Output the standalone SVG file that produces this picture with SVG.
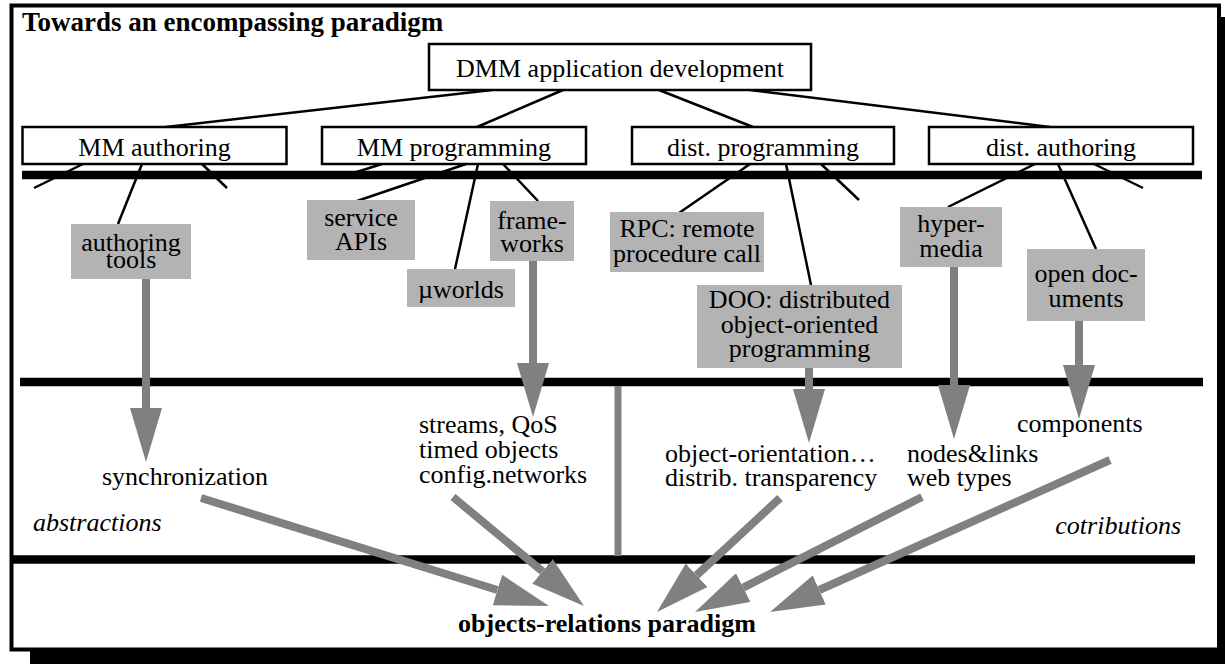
<svg xmlns="http://www.w3.org/2000/svg" width="1225" height="664" viewBox="0 0 1225 664">
<style>
text{font-family:"Liberation Serif","Times New Roman",serif;font-size:26px;fill:#000}
.b{font-weight:bold}
.i{font-style:italic}
.m{text-anchor:middle}
.wbox{fill:#fff;stroke:#000;stroke-width:2.5}
.gbox{fill:#b3b3b3;stroke:none}
.thin{stroke:#000;stroke-width:2.5;fill:none}
.bar{stroke:#000;stroke-width:8.5}
.garr{stroke:#808080;stroke-width:8;fill:none;marker-end:url(#ah)}
</style>
<defs>
<marker id="ah" markerUnits="userSpaceOnUse" markerWidth="54" markerHeight="32" refX="0" refY="16" orient="auto" viewBox="0 0 54 32"><path d="M0,0 L54,16 L0,32 z" fill="#808080"/></marker>
</defs>
<rect width="1225" height="664" fill="#fff"/>
<g id="frame">
<polygon points="1221,17 1225,17 1225,664 30,664 30,651 1221,651" fill="#000"/>
<rect x="11.5" y="5.5" width="1207.5" height="644" fill="none" stroke="#000" stroke-width="4"/>
</g>
<text id="title" class="b" x="22" y="31" style="font-size:27px">Towards an encompassing paradigm</text>
<g id="connectors">
<line class="thin" x1="492" y1="90" x2="166" y2="127"/>
<line class="thin" x1="563" y1="90" x2="477" y2="127"/>
<line class="thin" x1="659" y1="90" x2="753" y2="127"/>
<line class="thin" x1="750" y1="90" x2="1050" y2="127"/>
<line class="thin" x1="83" y1="164" x2="34" y2="188"/>
<line class="thin" x1="142" y1="164" x2="118" y2="224"/>
<line class="thin" x1="202" y1="164" x2="227" y2="188"/>
<line class="thin" x1="382" y1="164" x2="344" y2="176"/>
<line class="thin" x1="466" y1="164" x2="357" y2="201"/>
<line class="thin" x1="478" y1="164" x2="455" y2="269"/>
<line class="thin" x1="503" y1="164" x2="538" y2="201"/>
<line class="thin" x1="750" y1="164" x2="679" y2="213"/>
<line class="thin" x1="786" y1="164" x2="811" y2="285"/>
<line class="thin" x1="821" y1="164" x2="859" y2="200"/>
<line class="thin" x1="1035" y1="164" x2="948" y2="207"/>
<line class="thin" x1="1058" y1="164" x2="1096" y2="249"/>
<line class="thin" x1="1094" y1="164" x2="1143" y2="188"/>
<line class="bar" x1="22" y1="175" x2="1202" y2="175"/>
<line class="bar" x1="20" y1="382" x2="1203" y2="382"/>
<line class="bar" x1="13" y1="559.5" x2="1195" y2="559.5"/>
<line x1="618" y1="386" x2="618" y2="556" stroke="#808080" stroke-width="7"/>
<path class="garr" d="M146,273 V408"/>
<path class="garr" d="M533,256 V363"/>
<path class="garr" d="M809,367 V389"/>
<path class="garr" d="M954,263 V385"/>
<path class="garr" d="M1079,318 V365"/>
<path class="garr" d="M201,498 L497.4,590"/>
<path class="garr" d="M453,497 L542.5,571.4"/>
<path class="garr" d="M780,498 L696.6,575.3"/>
<path class="garr" d="M922,497 L743.2,587.6"/>
<path class="garr" d="M1110,460 L819.3,590"/>
</g>
<g id="dmm"><rect class="wbox" x="429" y="44" width="382" height="46"/><text class="m" x="620" y="77">DMM application development</text></g>
<g id="mm-authoring"><rect class="wbox" x="22.5" y="127" width="264" height="37"/><text class="m" x="154.5" y="156">MM authoring</text></g>
<g id="mm-programming"><rect class="wbox" x="322" y="127" width="264" height="37"/><text class="m" x="454" y="156">MM programming</text></g>
<g id="dist-programming"><rect class="wbox" x="632" y="127" width="262" height="37"/><text class="m" x="763" y="156">dist. programming</text></g>
<g id="dist-authoring"><rect class="wbox" x="929" y="127" width="264" height="37"/><text class="m" x="1061" y="156">dist. authoring</text></g>
<g id="authoring-tools"><rect class="gbox" x="71" y="224" width="120" height="55"/><text class="m" x="131" y="251">authoring</text><text class="m" x="131" y="268">tools</text></g>
<g id="service-apis"><rect class="gbox" x="307" y="200" width="108" height="60"/><text class="m" x="361" y="226">service</text><text class="m" x="361" y="250">APIs</text></g>
<g id="frameworks"><rect class="gbox" x="490" y="201" width="84" height="60"/><text class="m" x="532" y="229">frame-</text><text class="m" x="532" y="252">works</text></g>
<g id="uworlds"><rect class="gbox" x="407" y="269" width="108" height="38"/><text class="m" x="461" y="298">µworlds</text></g>
<g id="rpc"><rect class="gbox" x="610" y="212" width="154" height="60"/><text class="m" x="687" y="237">RPC: remote</text><text class="m" x="687" y="262">procedure call</text></g>
<g id="doo"><rect class="gbox" x="697" y="285" width="205" height="83"/><text class="m" x="799.5" y="308">DOO: distributed</text><text class="m" x="799.5" y="333">object-oriented</text><text class="m" x="799.5" y="357">programming</text></g>
<g id="hypermedia"><rect class="gbox" x="900" y="207" width="102" height="60"/><text class="m" x="951" y="232">hyper-</text><text class="m" x="951" y="257">media</text></g>
<g id="open-documents"><rect class="gbox" x="1027" y="249" width="118" height="72"/><text class="m" x="1086" y="282">open doc-</text><text class="m" x="1086" y="307">uments</text></g>
<g id="synchronization"><text x="102" y="485">synchronization</text></g>
<g id="streams"><text x="419" y="433">streams, QoS</text><text x="419" y="458">timed objects</text><text x="419" y="483">config.networks</text></g>
<g id="object-orientation"><text x="665" y="462">object-orientation…</text><text x="665" y="486">distrib. transparency</text></g>
<g id="nodes-links"><text x="907" y="462">nodes&amp;links</text><text x="907" y="486">web types</text></g>
<g id="components"><text x="1017" y="432">components</text></g>
<text class="i" x="33" y="531">abstractions</text>
<text class="i" x="1181" y="534" text-anchor="end">cotributions</text>
<g id="paradigm"><text class="b m" x="607" y="632">objects-relations paradigm</text></g>
</svg>
